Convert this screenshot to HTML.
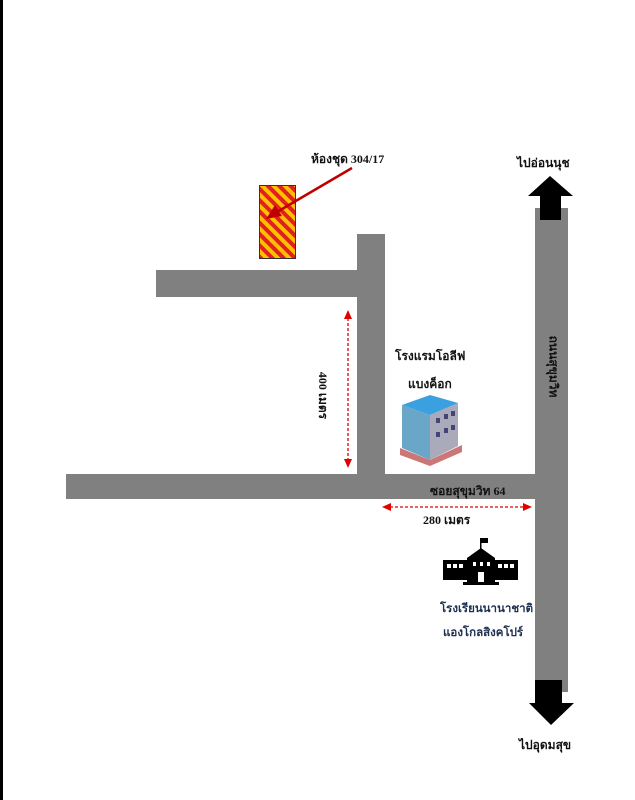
<!DOCTYPE html>
<html><head><meta charset="utf-8"><style>
body{margin:0;width:635px;height:800px;background:#fff;position:relative;overflow:hidden;font-family:"Liberation Serif","Noto Serif CJK SC","Noto Sans CJK SC",serif;}
.r{position:absolute;background:#808080;}
.t{position:absolute;font-weight:bold;font-size:12px;color:#111;white-space:nowrap;}
.b{color:#1d3050;font-size:11.5px;}
</style></head><body>
<div style="position:absolute;left:0;top:0;width:3px;height:800px;background:#000"></div>
<div class="r" style="left:535px;top:208px;width:33px;height:484px"></div>
<div class="r" style="left:66px;top:474px;width:502px;height:25px"></div>
<div class="r" style="left:357px;top:234px;width:28px;height:242px"></div>
<div class="r" style="left:156px;top:270px;width:229px;height:27px"></div>
<svg width="635" height="800" style="position:absolute;left:0;top:0">
<defs><pattern id="h" width="8" height="8" patternUnits="userSpaceOnUse" patternTransform="rotate(-45)"><rect width="8" height="8" fill="#ffc000"/><rect width="4" height="8" fill="#e02020"/></pattern></defs>
<rect x="259.5" y="185.5" width="36" height="73" fill="url(#h)" stroke="#333"/>
<line x1="352" y1="168" x2="277" y2="212" stroke="#c00000" stroke-width="2.5"/>
<polygon points="266,219 275,205 282,216" fill="#c00000"/>
<polygon points="550,176 573,196 561,196 561,220 540,220 540,196 528,196" fill="#000"/>
<polygon points="535,680 562,680 562,703 574,703 551,725 529,703 535,703" fill="#000"/>
<line x1="348" y1="318" x2="348" y2="460" stroke="#e00000" stroke-width="1.3" stroke-dasharray="3,2"/>
<polygon points="348,310 344,319 352,319" fill="#e00000"/><polygon points="348,468 344,459 352,459" fill="#e00000"/>
<line x1="390" y1="507" x2="524" y2="507" stroke="#e00000" stroke-width="1.3" stroke-dasharray="3,2"/>
<polygon points="382,507 391,503 391,511" fill="#e00000"/><polygon points="532,507 523,503 523,511" fill="#e00000"/>
<!-- building -->
<polygon points="400,448 430,460 462,445 462,452 430,466 400,455" fill="#c77"/>
<polygon points="402,405 430,415 430,460 402,448" fill="#6aa6c8"/>
<polygon points="430,415 458,403 458,446 430,460" fill="#aab"/>
<polygon points="402,405 430,395 458,403 430,415" fill="#3aa0e0"/>
<g fill="#447"><rect x="436" y="418" width="4" height="5"/><rect x="444" y="414" width="4" height="5"/><rect x="451" y="411" width="4" height="5"/><rect x="436" y="432" width="4" height="5"/><rect x="444" y="428" width="4" height="5"/><rect x="451" y="425" width="4" height="5"/></g>
<!-- school -->
<g fill="#000"><rect x="443" y="560" width="24" height="20"/><rect x="494" y="560" width="24" height="20"/><polygon points="467,558 481,548 495,558 495,582 467,582"/><rect x="480" y="538" width="1.5" height="11"/><rect x="481" y="538" width="7" height="5"/><rect x="463" y="582" width="36" height="3"/></g>
<g fill="#fff"><rect x="447" y="564" width="4" height="4"/><rect x="453" y="564" width="4" height="4"/><rect x="459" y="564" width="4" height="4"/><rect x="498" y="564" width="4" height="4"/><rect x="504" y="564" width="4" height="4"/><rect x="510" y="564" width="4" height="4"/><rect x="473" y="562" width="3" height="4"/><rect x="480" y="562" width="3" height="4"/><rect x="487" y="562" width="3" height="4"/><rect x="478" y="572" width="6" height="10"/></g>
</svg>
<div class="t" style="left:311px;top:150px">ห้องชุด 304/17</div>
<div class="t" style="left:517px;top:154px">ไปอ่อนนุช</div>
<div class="t" style="left:519px;top:736px">ไปอุดมสุข</div>
<div class="t" style="left:395px;top:347px">โรงแรมโอลีฟ</div>
<div class="t" style="left:408px;top:375px">แบงค็อก</div>
<div class="t" style="left:430px;top:482px">ซอยสุขุมวิท 64</div>
<div class="t" style="left:423px;top:511px">280 เมตร</div>
<div class="t b" style="left:440px;top:600px">โรงเรียนนานาชาติ</div>
<div class="t b" style="left:443px;top:624px">แองโกลสิงคโปร์</div>
<div class="t" style="left:299px;top:386px;transform:rotate(90deg)">400 เมตร</div>
<div class="t" style="left:522px;top:357px;transform:rotate(90deg)">ถนนสุขุมวิท</div>
</body></html>
